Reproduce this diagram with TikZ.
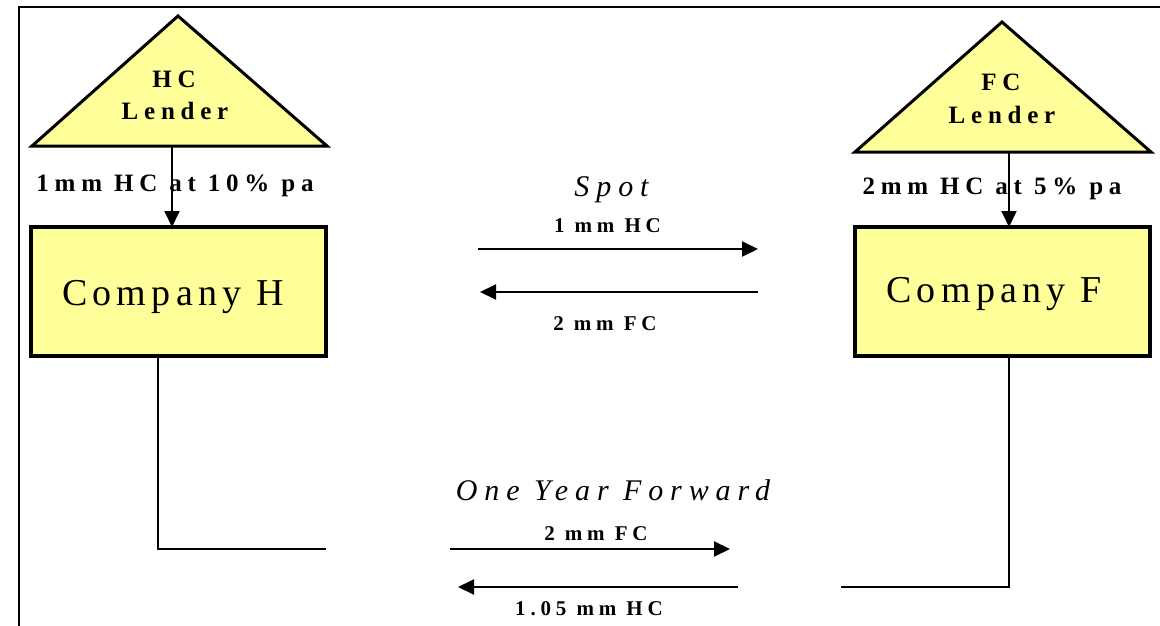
\documentclass[tikz,border=0pt]{standalone}
\usepackage{fontspec}
\setmainfont{Liberation Serif}
\newfontfamily\trk[LetterSpace=23]{Liberation Serif}
\newfontfamily\trkwide[LetterSpace=14]{Liberation Serif}
\usetikzlibrary{arrows.meta}
\definecolor{paleyellow}{HTML}{FFFF99}

\tikzset{
  every node/.style={inner sep=0pt, outer sep=0pt},
  firm/.style={draw, line width=3.5pt, fill=paleyellow},
  lender/.style={draw, line width=3pt, fill=paleyellow, line join=miter},
  flow/.style={line width=2pt, -{Triangle[length=16pt,width=15pt]}},
  link/.style={line width=2.5pt},
  lbl/.style={anchor=base, font=\trk\bfseries\fontsize{25}{25}\selectfont},
  amt/.style={anchor=base, font=\trk\bfseries\fontsize{21}{21}\selectfont},
  deal/.style={anchor=base, font=\trk\itshape\fontsize{30}{30}\selectfont},
  firmname/.style={anchor=base, font=\trkwide\fontsize{38}{38}\selectfont},
}

\begin{document}
\begin{tikzpicture}[x=1pt, y=-1pt]
  \useasboundingbox (0,0) rectangle (1160,626);
  \clip (0,0) rectangle (1160,626);

  % outer frame
  \draw[line width=2pt] (19,640) |- (1175,7);

  % lenders
  \coordinate (hcApex) at (178,16);
  \coordinate (fcApex) at (1002,22);
  \draw[lender] (hcApex) -- (327,146) -- (32,146) -- cycle;
  \draw[lender] (fcApex) -- (1151,152) -- (855,152) -- cycle;
  \node[lbl] (hcName) at (174,88) {HC};
  \node[lbl] (hcLender) at (175,119) {Lender};
  \node[lbl] (fcName) at (1001,91) {FC};
  \node[lbl] (fcLender) at (1002,123) {Lender};
  \coordinate (hcBase) at (172,146);
  \coordinate (fcBase) at (1009,152);

  % companies
  \node[firm, minimum width=295pt, minimum height=129pt] (coH) at (178.5,291.5) {};
  \node[firm, minimum width=295pt, minimum height=129pt] (coF) at (1002.5,291.5) {};
  \node[firmname] (coHName) at (173,305) {Company H};
  \node[firmname] (coFName) at (994,302) {Company F};

  % loans
  \draw[flow] (hcBase) -- (hcBase |- coH.north);
  \draw[flow] (fcBase) -- (fcBase |- coF.north);
  \node[lbl] (hcLoan) at (175,191) {1mm HC at 10\% pa};
  \node[lbl] (fcLoan) at (992,194) {2mm HC at 5\% pa};

  % spot exchange
  \node[deal] (spot) at (611.5,196) {Spot};
  \coordinate (spotOutA) at (478,249);
  \coordinate (spotOutB) at (758,249);
  \coordinate (spotBackA) at (758,292);
  \coordinate (spotBackB) at (480,292);
  \draw[flow] (spotOutA) -- (spotOutB);
  \draw[flow] (spotBackA) -- (spotBackB);
  \node[amt] (spotHC) at (607.5,232) {1 mm HC};
  \node[amt] (spotFC) at (605,330) {2 mm FC};

  % one year forward exchange
  \node[deal] (fwd) at (613,500) {One Year Forward};
  \coordinate (hLegTop) at (158,356);
  \coordinate (hLegEnd) at (326,549);
  \coordinate (fLegTop) at (1009,356);
  \coordinate (fLegEnd) at (841,587);
  \draw[link] (hLegTop) |- (hLegEnd);
  \draw[link] (fLegTop) |- (fLegEnd);
  \coordinate (fwdOutA) at (450,549);
  \coordinate (fwdOutB) at (730,549);
  \coordinate (fwdBackA) at (738,587);
  \coordinate (fwdBackB) at (458,587);
  \draw[flow] (fwdOutA) -- (fwdOutB);
  \draw[flow] (fwdBackA) -- (fwdBackB);
  \node[amt] (fwdFC) at (596,540) {2 mm FC};
  \node[amt] (fwdHC) at (589,615) {1.05 mm HC};
\end{tikzpicture}
\end{document}
